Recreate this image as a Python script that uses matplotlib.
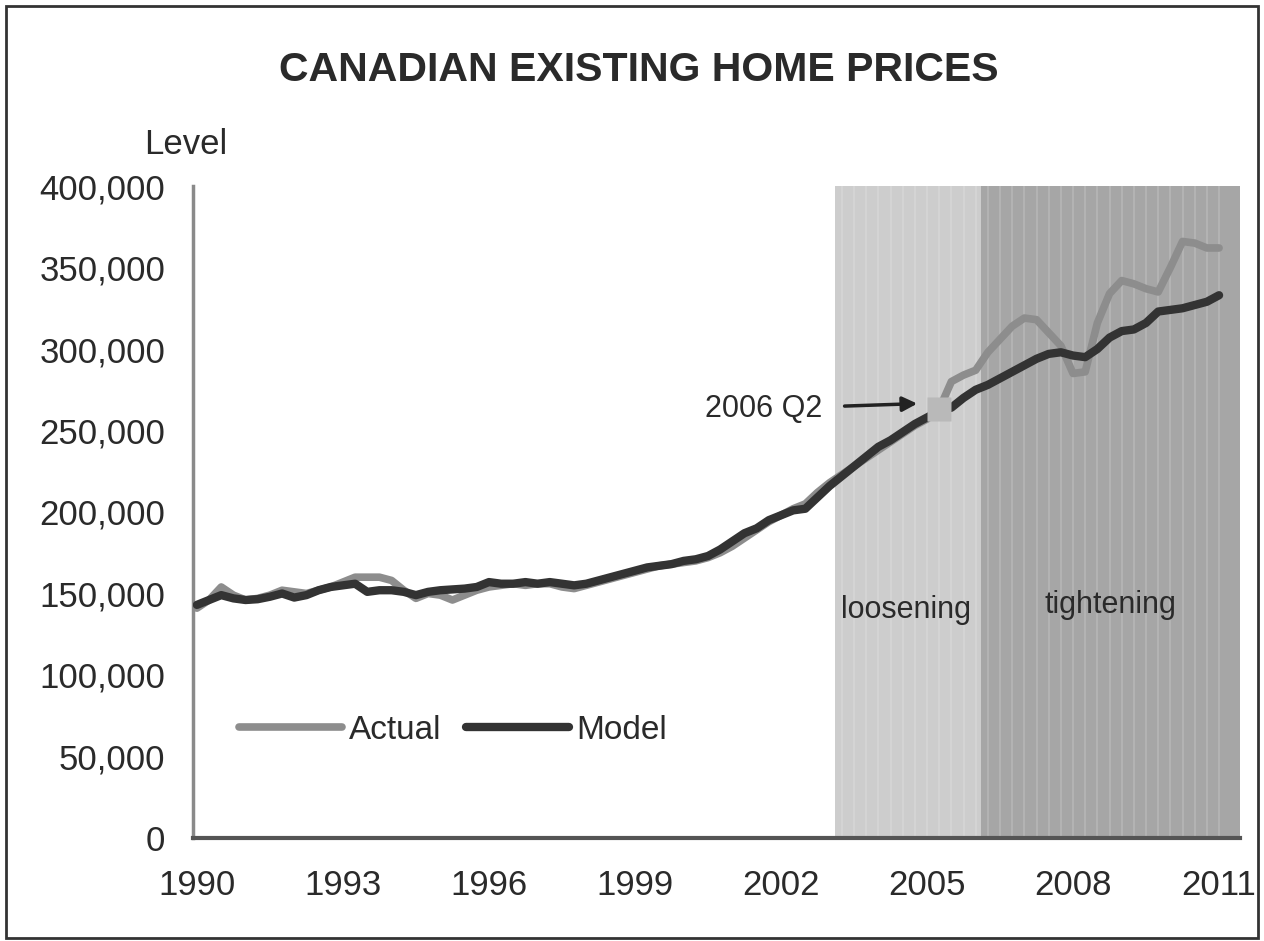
import matplotlib.pyplot as plt
import matplotlib.patches as mpatches
import numpy as np

plt.rcParams['font.family'] = ['Liberation Sans', 'DejaVu Sans']

# quarterly observations, 1990 Q1 .. 2011 Q1 (thousands of dollars)
quarters = np.arange(1990.0, 2011.01, 0.25)

actual = [141, 146, 154, 149, 146, 147, 149, 152, 151, 150, 152, 154,
          157, 160, 160, 160, 158, 152, 147, 150, 149, 146, 149, 152,
          154, 155, 156, 155, 156, 156, 154, 153, 155, 157, 159, 161,
          163, 165, 167, 168, 169, 170, 172, 175, 179, 184, 189, 194,
          198, 202, 205, 212, 218, 223, 228, 233, 238, 243, 248, 253,
          257, 263, 280, 284, 287, 298, 306, 314, 319, 318, 310, 302,
          285, 286, 316, 334, 342, 340, 337, 335, 350, 366, 365, 362,
          362]

model = [143, 146, 149, 147, 146, 146.5, 148, 150, 147.5, 149, 152, 154,
         155, 156, 151, 152, 152, 151, 149, 151, 152, 152.5, 153, 154,
         157, 156, 156, 157, 156, 157, 156, 155, 156, 158, 160, 162,
         164, 166, 167, 168, 170, 171, 173, 177, 182, 187, 190, 195,
         198, 201, 202, 209, 216, 222, 228, 234, 240, 244, 249, 254,
         258, 262, 264, 270, 275, 278, 282, 286, 290, 294, 297, 298,
         296, 295, 300, 307, 311, 312, 316, 323, 324, 325, 327, 329,
         333]

actual = np.array(actual) * 1000
model = np.array(model) * 1000

loosening = (2003.11, 2006.11)
tightening = (2006.11, 2011.43)
marker_q = 2005.25  # labelled "2006 Q2" on the original chart

x_ticks = [1990, 1993, 1996, 1999, 2002, 2005, 2008, 2011]
y_ticks = list(range(0, 400001, 50000))

txt = '#2a2a2a'

fig = plt.figure(figsize=(12.64, 9.41), dpi=100)
ax = fig.add_axes([0.1527, 0.1095, 0.8283, 0.6928])

# shaded policy periods with faint vertical striping
ax.axvspan(*loosening, color='#cdcdcd', lw=0, zorder=0)
ax.axvspan(*tightening, color='#a6a6a6', lw=0, zorder=0)
for q in quarters:
    if loosening[0] < q < tightening[1]:
        ax.axvline(q, color='white', alpha=0.15, lw=1.5, zorder=0.5)

ax.plot(quarters, actual, color='#8d8d8d', lw=5.5, solid_capstyle='round',
        label='Actual', zorder=2)
ax.plot(quarters, model, color='#333333', lw=6, solid_capstyle='round',
        label='Model', zorder=3)

i = int(np.argmin(np.abs(quarters - marker_q)))
ax.plot(quarters[i], actual[i], marker='s', ms=17, color='#b9b9b9',
        mec='none', zorder=4)
ax.annotate('2006 Q2', xy=(quarters[i] - 0.45, actual[i] + 3500),
            xytext=(quarters[i] - 2.4, actual[i] + 300),
            fontsize=22, color=txt, ha='right', va='center',
            arrowprops=dict(arrowstyle='-|>', color='#222222', lw=2.5,
                            mutation_scale=22, shrinkA=14, shrinkB=0))

ax.text(sum(loosening) / 2 - 0.05, 140000, 'loosening', fontsize=22,
        color=txt, ha='center', va='center')
ax.text(2008.77, 143000, 'tightening', fontsize=22,
        color=txt, ha='center', va='center')

ax.set_xlim(1989.92, 2011.43)
ax.set_ylim(0, 400000)
ax.set_xticks(x_ticks)
ax.set_xticklabels([str(t) for t in x_ticks])
ax.set_yticks(y_ticks)
ax.set_yticklabels([f'{v:,}' for v in y_ticks])
ax.tick_params(axis='both', length=0, labelsize=25, colors=txt)
ax.tick_params(axis='y', pad=20)
ax.tick_params(axis='x', pad=22)

for side in ['top', 'right']:
    ax.spines[side].set_visible(False)
ax.spines['left'].set_color('#8a8a8a')
ax.spines['left'].set_linewidth(2.5)
ax.spines['bottom'].set_color('#555555')
ax.spines['bottom'].set_linewidth(3)

leg = ax.legend(loc='center', bbox_to_anchor=(0.248, 0.165), ncol=2,
                frameon=False, fontsize=24, handlelength=3.1,
                handletextpad=0.2, columnspacing=0.75)
for t in leg.get_texts():
    t.set_color(txt)

fig.text(0.505, 0.926, 'CANADIAN EXISTING HOME PRICES', fontsize=29.5,
         fontweight='bold', color=txt, ha='center', va='center')
fig.text(0.114, 0.846, 'Level', fontsize=25, color=txt,
         ha='left', va='center')

fig.patches.append(mpatches.Rectangle((0.005, 0.003), 0.99, 0.991,
                                      transform=fig.transFigure,
                                      fill=False, ec='#333333', lw=2))

fig.savefig('out.png', dpi=100)
